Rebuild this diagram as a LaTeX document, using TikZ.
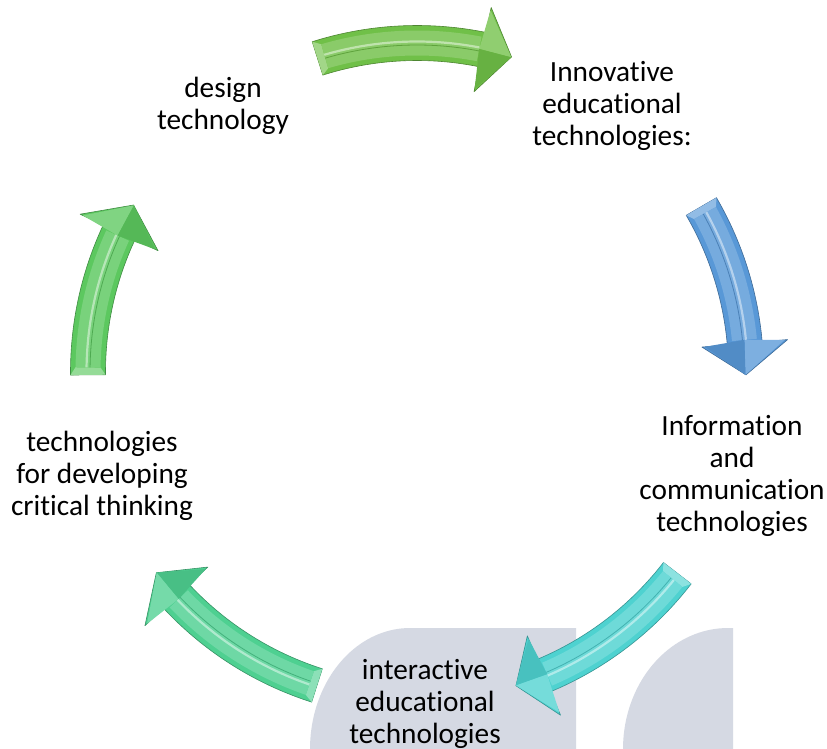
\documentclass[tikz,border=0pt]{standalone}
\usepackage{fontspec}
\setmainfont{Carlito}[Ligatures=NoCommon]
\newcommand\brk{\kern0pt}
\definecolor{wmgray}{RGB}{213,217,227}
\definecolor{arTop}{RGB}{112,192,72}
\definecolor{arRight}{RGB}{88,152,215}
\definecolor{arBR}{RGB}{78,210,208}
\definecolor{arBL}{RGB}{78,208,145}
\definecolor{arLeft}{RGB}{92,200,95}
\def\crR{329}
\def\crW{17.5}
\def\crH{43}
% #1 tail angle, #2 head-base angle, #3 tip angle, #4 colour
\newcommand\cycarrow[4]{%
  \pgfmathsetmacro\crT{#1-1.3}%
  \pgfmathsetmacro\crB{#2+0.6}%
  \fill[#4, draw=#4!70!black, line width=0.6pt, line join=round]
    plot[domain=#1:#2,samples=40] ({417+(\crR+\crW)*cos(\x)},{372-(\crR+\crW)*sin(\x)})
    -- ({417+(\crR+\crH)*cos(#2)},{372-(\crR+\crH)*sin(#2)})
    -- ({417+\crR*cos(#3)},{372-\crR*sin(#3)})
    -- ({417+(\crR-\crH)*cos(#2)},{372-(\crR-\crH)*sin(#2)})
    -- plot[domain=#2:#1,samples=40] ({417+(\crR-\crW)*cos(\x)},{372-(\crR-\crW)*sin(\x)})
    -- cycle;
  % tail bevel facet
  \fill[#4!65!white]
    ({417+(\crR+\crW)*cos(#1)},{372-(\crR+\crW)*sin(#1)})
    -- ({417+(\crR+\crW-5)*cos(\crT)},{372-(\crR+\crW-5)*sin(\crT)})
    -- ({417+(\crR-\crW+5)*cos(\crT)},{372-(\crR-\crW+5)*sin(\crT)})
    -- ({417+(\crR-\crW)*cos(#1)},{372-(\crR-\crW)*sin(#1)}) -- cycle;
  % inner raised band
  \fill[#4!82!white]
    plot[domain=\crT:\crB,samples=40] ({417+(\crR+\crW-5)*cos(\x)},{372-(\crR+\crW-5)*sin(\x)})
    -- plot[domain=\crB:\crT,samples=40] ({417+(\crR-\crW+5)*cos(\x)},{372-(\crR-\crW+5)*sin(\x)})
    -- cycle;
  % head faces
  \fill[#4!78!white]
    ({417+(\crR+\crH-3)*cos(#2)},{372-(\crR+\crH-3)*sin(#2)})
    -- ({417+(\crR-0.5)*cos(#3)},{372-(\crR-0.5)*sin(#3)})
    -- ({417+\crR*cos(\crB)},{372-\crR*sin(\crB)}) -- cycle;
  \fill[#4!92!black]
    ({417+(\crR-\crH+3)*cos(#2)},{372-(\crR-\crH+3)*sin(#2)})
    -- ({417+(\crR-0.5)*cos(#3)},{372-(\crR-0.5)*sin(#3)})
    -- ({417+\crR*cos(\crB)},{372-\crR*sin(\crB)}) -- cycle;
  % ridge
  \draw[#4!45!white, line width=2.2pt]
    plot[domain=\crT:\crB,samples=40] ({417+(\crR+1.5)*cos(\x)},{372-(\crR+1.5)*sin(\x)});
  \draw[#4!85!black, line width=0.8pt]
    plot[domain=\crT:\crB,samples=40] ({417+(\crR-2)*cos(\x)},{372-(\crR-2)*sin(\x)});
}
\tikzset{lbl/.style={font=\fontsize{29.3}{32}\selectfont, align=center, inner sep=0pt, text=black}}
\begin{document}
\begin{tikzpicture}[x=1pt,y=-1pt]
\useasboundingbox[fill=white] (0,0) rectangle (827,749);
% watermark
\fill[wmgray] plot[domain=180:90,samples=40] ({410+100*cos(\x)},{749-121*sin(\x)})
  -- (576,628) -- (576,749) -- cycle;
\fill[wmgray] plot[domain=180:90,samples=40] ({728+105*cos(\x)},{749-121*sin(\x)})
  -- (733,628) -- (733,749) -- cycle;
% arrows
\cycarrow{107.6}{78.5}{73.3}{arTop}
\cycarrow{30.2}{5}{-0.5}{arRight}
\cycarrow{-37.7}{-67.3}{-72.5}{arBR}
\cycarrow{-107.7}{-137}{-142.4}{arBL}
\cycarrow{180.5}{154.9}{149.5}{arLeft}
% labels
\node[lbl] (design) at (223,107) {\strut design\\\strut technology};
\node[lbl] (innov) at (612,107) {\strut Innovat\brk ive\\\strut educat\brk ional\\\strut technologies:};
\node[lbl] (info) at (732,477) {\strut Informat\brk ion\\\strut and\\\strut communicat\brk ion\\\strut technologies};
\node[lbl] (inter) at (425,705) {\strut interact\brk ive\\\strut educat\brk ional\\\strut technologies};
\node[lbl] (crit) at (102,477) {\strut technologies\\\strut for developing\\\strut crit\brk ical thinking};
\end{tikzpicture}
\end{document}
